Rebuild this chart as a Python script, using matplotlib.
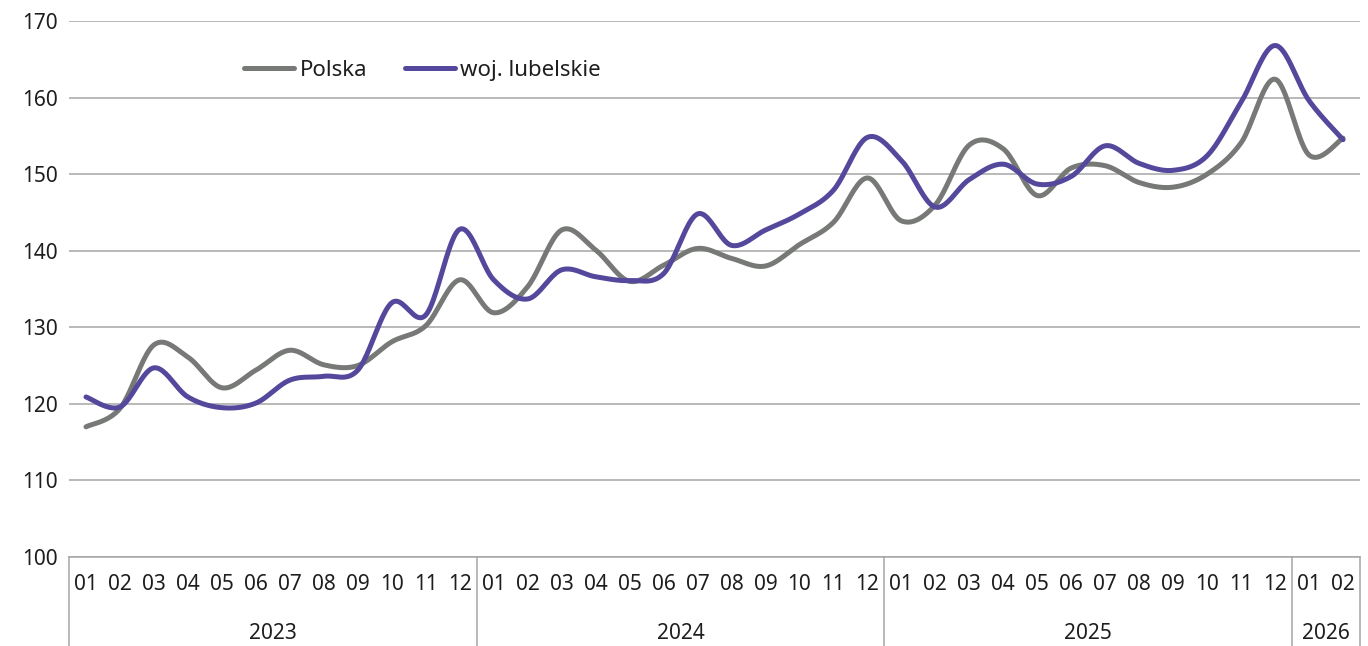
import matplotlib
matplotlib.use('Agg')
import matplotlib.pyplot as plt
import matplotlib.transforms as mtransforms
import numpy as np

# monthly index values, 2023-01 .. 2026-02
months = ['01', '02', '03', '04', '05', '06', '07', '08', '09', '10', '11', '12'] * 3 + ['01', '02']
years = ['2023', '2024', '2025', '2026']
year_len = [12, 12, 12, 2]

polska = [117.0, 119.4, 127.7, 126.1, 122.1, 124.4, 127.0, 125.1, 125.0, 128.1, 130.2, 136.2,
          131.9, 135.3, 142.7, 140.1, 136.0, 138.1, 140.3, 139.0, 138.0, 140.8, 143.7, 149.5,
          143.9, 146.0, 153.8, 153.3, 147.2, 150.8, 151.1, 148.9, 148.3, 150.0, 154.1, 162.4,
          152.5, 154.7]
lubelskie = [120.9, 119.6, 124.7, 120.9, 119.5, 120.1, 123.1, 123.6, 124.4, 133.2, 131.6, 142.8,
             136.2, 133.7, 137.5, 136.6, 136.1, 137.0, 144.8, 140.7, 142.7, 144.8, 147.9, 154.8,
             151.8, 145.7, 149.3, 151.3, 148.7, 149.7, 153.7, 151.4, 150.5, 152.4, 159.4, 166.8,
             159.6, 154.5]

GRAY = '#777977'
PURPLE = '#54489c'
GRID = '#a6a6a6'
TXT = '#1e1e1e'
FS = 15
plt.rcParams['font.family'] = ['Noto Sans', 'DejaVu Sans']


def smooth(y, n=24):
    # excel-like smoothed line (catmull-rom as bezier)
    y = np.asarray(y, float)
    x = np.arange(len(y), dtype=float)
    p = np.column_stack([x, y])
    pts = [p[0]]
    t = np.linspace(0, 1, n)[1:, None]
    for i in range(len(p) - 1):
        p0 = p[max(i - 1, 0)]
        p1 = p[i]
        p2 = p[i + 1]
        p3 = p[min(i + 2, len(p) - 1)]
        c1 = p1 + (p2 - p0) / 6
        c2 = p2 - (p3 - p1) / 6
        seg = ((1 - t) ** 3) * p1 + 3 * ((1 - t) ** 2) * t * c1 + 3 * (1 - t) * t ** 2 * c2 + t ** 3 * p2
        pts.extend(seg)
    pts = np.array(pts)
    return pts[:, 0], pts[:, 1]


fig = plt.figure(figsize=(13.68, 6.46), dpi=100)
ax = fig.add_axes([69 / 1368, 89 / 646, 1291 / 1368, 536 / 646])

xs, ys = smooth(polska)
ax.plot(xs, ys, color=GRAY, lw=3.6, solid_capstyle='round', label='Polska', zorder=3)
xs, ys = smooth(lubelskie)
ax.plot(xs, ys, color=PURPLE, lw=3.6, solid_capstyle='round', label='woj. lubelskie', zorder=4)

n = len(months)
ax.set_xlim(-0.5, n - 0.5)
ax.set_ylim(100, 170)
ax.set_yticks(np.arange(100, 171, 10))
ax.yaxis.grid(True, color=GRID, lw=1.1)
ax.set_axisbelow(True)
ax.tick_params(axis='y', length=0, pad=8, labelsize=FS, labelcolor=TXT)
ax.set_xticks([])
for s in ['top', 'right', 'left']:
    ax.spines[s].set_visible(False)
ax.spines['bottom'].set_color(GRID)
ax.spines['bottom'].set_linewidth(1.1)

# two-level category axis
trans = mtransforms.blended_transform_factory(ax.transData, ax.transAxes)
for i, m in enumerate(months):
    ax.text(i, -0.052, m, transform=trans, ha='center', va='center', fontsize=FS, color=TXT)
bounds = np.concatenate([[0], np.cumsum(year_len)])
for k, yr in enumerate(years):
    mid = (bounds[k] + bounds[k + 1] - 1) / 2
    ax.text(mid, -0.142, yr, transform=trans, ha='center', va='center', fontsize=FS, color=TXT)
for b in bounds:
    ax.plot([b - 0.5, b - 0.5], [0, -0.17], transform=trans, color=GRID, lw=1.1, clip_on=False)

leg = ax.legend(loc='upper left', bbox_to_anchor=(0.12, 0.965), ncol=2, frameon=False,
                fontsize=16, handlelength=2.25, handletextpad=0.25, columnspacing=1.7)
for t in leg.get_texts():
    t.set_color(TXT)

fig.savefig('out.png', dpi=100)
